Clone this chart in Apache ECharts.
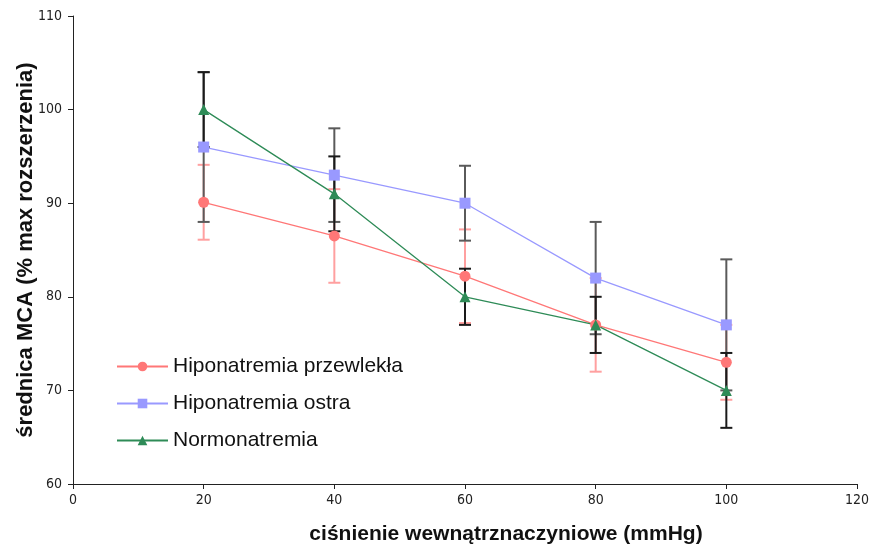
<!DOCTYPE html>
<html>
<head>
<meta charset="utf-8">
<script src="https://cdn.jsdelivr.net/npm/echarts@6/dist/echarts.min.js"></script>
<style>html,body{margin:0;padding:0;background:#fff;}#c{width:874px;height:550px;}</style>
</head>
<body>
<div id="c"></div>
<script>
var pressures = [20, 40, 60, 80, 100];
var seriesNames = ['Hiponatremia przewlekła', 'Hiponatremia ostra', 'Normonatremia'];
var przewleklaValues = [90.1, 86.5, 82.2, 77, 73];
var przewleklaErrors = [4, 5, 5, 5, 4];
var ostraValues = [96, 93, 90, 82, 77];
var ostraErrors = [8, 5, 4, 6, 7];
var normoValues = [100, 91, 80, 77, 70];
var normoErrors = [4, 4, 3, 3, 4];
var xTicks = [0, 20, 40, 60, 80, 100, 120];
var yTicks = [60, 70, 80, 90, 100, 110];

function pts(vals) { return pressures.map(function (p, i) { return [p, vals[i]]; }); }
function errs(vals, e) { return pressures.map(function (p, i) { return [p, vals[i] - e[i], vals[i] + e[i]]; }); }

function errSeries(data, color, z) {
  return {
    type: 'custom',
    z: z,
    silent: true,
    data: data,
    encode: { x: 0, y: [1, 2] },
    renderItem: function (params, api) {
      var x = api.value(0);
      var lo = api.coord([x, api.value(1)]);
      var hi = api.coord([x, api.value(2)]);
      var w = 6;
      var st = { stroke: color, lineWidth: 2 };
      return {
        type: 'group',
        children: [
          { type: 'line', shape: { x1: lo[0], y1: lo[1], x2: hi[0], y2: hi[1] }, style: st },
          { type: 'line', shape: { x1: lo[0] - w, y1: lo[1], x2: lo[0] + w, y2: lo[1] }, style: st },
          { type: 'line', shape: { x1: hi[0] - w, y1: hi[1], x2: hi[0] + w, y2: hi[1] }, style: st }
        ]
      };
    }
  };
}

var chart = echarts.init(document.getElementById('c'));
var fontAx = '"DejaVu Sans Condensed", "Liberation Sans Narrow", "Liberation Sans", Arial, sans-serif';
var fontMain = '"Liberation Sans", Arial, sans-serif';
chart.setOption({
  animation: false,
  backgroundColor: '#fff',
  grid: { left: 73, right: 17, top: 16, bottom: 66, containLabel: false, outerBoundsMode: 'none' },
  legend: {
    orient: 'vertical',
    left: 111,
    top: 351,
    itemWidth: 51,
    itemHeight: 12,
    itemGap: 16,
    textStyle: { fontFamily: fontMain, fontSize: 21, color: '#111' },
    data: seriesNames
  },
  xAxis: {
    type: 'value', min: 0, max: 120, interval: 20,
    name: 'ciśnienie wewnątrznaczyniowe (mmHg)',
    nameLocation: 'middle', nameGap: 40, nameMoveOverlap: false,
    nameTextStyle: { fontFamily: fontMain, fontSize: 21, fontWeight: 'bold', color: '#111', padding: [0, 0, 0, 82] },
    axisLine: { lineStyle: { color: '#222', width: 1 } },
    axisTick: { show: true, length: 5, lineStyle: { color: '#222' } },
    axisLabel: { fontFamily: fontAx, fontSize: 14, color: '#222', margin: 9 },
    splitLine: { show: false }
  },
  yAxis: {
    type: 'value', min: 60, max: 110, interval: 10,
    name: 'średnica MCA (% max rozszerzenia)',
    nameLocation: 'middle', nameGap: 36, nameMoveOverlap: false,
    nameTextStyle: { fontFamily: fontMain, fontSize: 22, fontWeight: 'bold', color: '#111' },
    axisLine: { show: true, lineStyle: { color: '#222', width: 1 } },
    axisTick: { show: true, length: 5, lineStyle: { color: '#222' } },
    axisLabel: { fontFamily: fontAx, fontSize: 14, color: '#222', margin: 11 },
    splitLine: { show: false }
  },
  series: [
    errSeries(errs(przewleklaValues, przewleklaErrors), '#FFA0A0', 1),
    errSeries(errs(ostraValues, ostraErrors), '#5a5a5a', 2),
    errSeries(errs(normoValues, normoErrors), '#1a1a1a', 3),
    {
      name: seriesNames[0], type: 'line', z: 5, data: pts(przewleklaValues),
      symbol: 'circle', symbolSize: 11,
      lineStyle: { color: '#FF7777', width: 1.3 }, itemStyle: { color: '#FF7777' }
    },
    {
      name: seriesNames[1], type: 'line', z: 5, data: pts(ostraValues),
      symbol: 'rect', symbolSize: 11,
      lineStyle: { color: '#9999FF', width: 1.3 }, itemStyle: { color: '#9999FF' }
    },
    {
      name: seriesNames[2], type: 'line', z: 5, data: pts(normoValues),
      symbol: 'triangle', symbolSize: 11,
      lineStyle: { color: '#2E8B57', width: 1.3 }, itemStyle: { color: '#2E8B57' }
    }
  ]
});
</script>
</body>
</html>
